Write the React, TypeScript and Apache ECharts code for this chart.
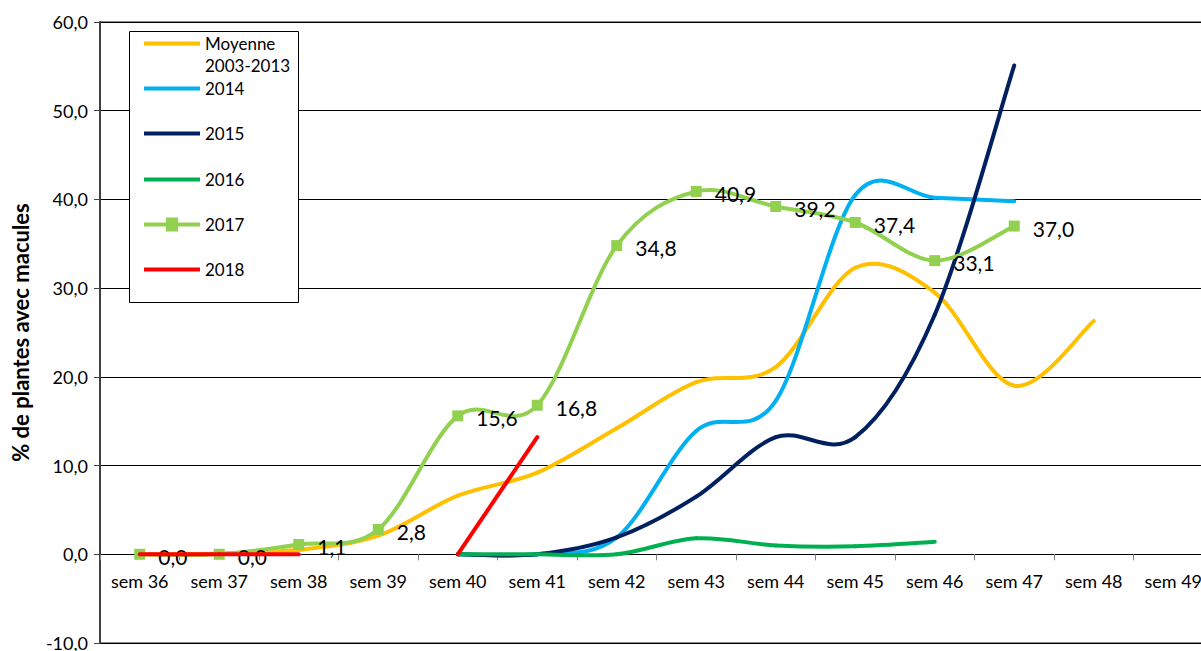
import React, { useEffect, useRef } from 'react';
import * as echarts from 'echarts';

const FONT = 'Lato, "Noto Sans", sans-serif';

const categories = ['sem 36', 'sem 37', 'sem 38', 'sem 39', 'sem 40', 'sem 41', 'sem 42', 'sem 43', 'sem 44', 'sem 45', 'sem 46', 'sem 47', 'sem 48', 'sem 49'];
const yTicks = { min: -10, max: 60, interval: 10 };

const moyenne = [0.0, 0.1, 0.5, 2.1, 6.6, 9.2, 14.2, 19.4, 21.1, 32.3, 29.5, 19.0, 26.3, null];
const s2014 = [null, null, null, null, 0, 0, 1.9, 13.9, 17.3, 40.5, 40.2, 39.8, null, null];
const s2015 = [null, null, null, null, 0, 0, 1.9, 6.5, 13.2, 13.2, 27.0, 55.1, null, null];
const s2016 = [null, null, null, null, 0, 0, 0, 1.8, 1.0, 0.9, 1.4, null, null, null];
const s2017 = [0.0, 0.0, 1.1, 2.8, 15.6, 16.8, 34.8, 40.9, 39.2, 37.4, 33.1, 37.0, null, null];
const s2018 = [0, 0, 0, null, 0, 13.2, null, null, null, null, null, null, null, null];

const seriesNames = ['Moyenne 2003-2013', '2014', '2015', '2016', '2017', '2018'];
const seriesColors = ['#ffc000', '#00b0f0', '#002060', '#00b050', '#92d050', '#ff0000'];
const legendY = [43, 88, 133, 179, 224, 269];

const fmt = (v: number) => v.toFixed(1).replace('.', ',');

// Smoothed curve (Catmull-Rom style, like a spreadsheet's smoothed line), positioned through api.coord
const curveSeries = (name: string, data: (number | null)[], color: string, z: number) => ({
  type: 'custom',
  name,
  data: data.map((v, i) => [i, v == null ? '-' : v]),
  encode: { x: 0, y: 1 },
  itemStyle: { color },
  z,
  silent: true,
  renderItem: (params: any, api: any) => {
    const i = params.dataIndex;
    if (i + 1 >= data.length || data[i] == null || data[i + 1] == null) return null;
    const p = (k: number) => api.coord([k, data[k] as number]);
    const P1 = p(i);
    const P2 = p(i + 1);
    const P0 = i - 1 >= 0 && data[i - 1] != null ? p(i - 1) : P1;
    const P3 = i + 2 < data.length && data[i + 2] != null ? p(i + 2) : P2;
    return {
      type: 'bezierCurve',
      shape: {
        x1: P1[0], y1: P1[1], x2: P2[0], y2: P2[1],
        cpx1: P1[0] + (P2[0] - P0[0]) / 6, cpy1: P1[1] + (P2[1] - P0[1]) / 6,
        cpx2: P2[0] - (P3[0] - P1[0]) / 6, cpy2: P2[1] - (P3[1] - P1[1]) / 6,
      },
      style: { stroke: color, lineWidth: 4, fill: null, lineCap: 'round' },
    };
  },
});

export default function App() {
  const ref = useRef<HTMLDivElement>(null);
  useEffect(() => {
    const chart = echarts.init(ref.current!, null, { renderer: 'svg' });
    const datas = [moyenne, s2014, s2015, s2016, s2017, s2018];
    const series: any[] = datas.map((d, i) => curveSeries(seriesNames[i], d, seriesColors[i], i === 5 ? 8 : 2 + i));
    series.push({
      type: 'scatter',
      name: '2017',
      data: s2017.map((v, i) => [i, v == null ? '-' : v]),
      symbol: 'rect',
      symbolSize: 11,
      itemStyle: { color: '#92d050', opacity: 1 },
      z: 7,
      silent: true,
      label: {
        show: true,
        position: 'right',
        distance: 13,
        offset: [0, 2],
        color: '#000',
        fontFamily: FONT,
        fontSize: 21,
        formatter: (p: any) => fmt(p.value[1]),
      },
    });
    const legends = seriesNames.map((n, i) => {
      const is2017 = n === '2017';
      return {
        data: [{ name: n, icon: is2017 ? 'path://M0,4H22V-1H34V4H56V8H34V13H22V8H0Z' : 'rect' }],
        left: 144,
        top: legendY[i] - 8,
        orient: 'horizontal',
        itemWidth: 56,
        itemHeight: is2017 ? 14 : 4,
        itemGap: 0,
        padding: 0,
        selectedMode: false,
        formatter: (name: string) => (name === 'Moyenne 2003-2013' ? 'Moyenne' : name),
        textStyle: { fontFamily: FONT, fontSize: 17, color: '#000', lineHeight: 16 },
        z: 20,
      };
    });
    const option: any = {
      animation: false,
      backgroundColor: '#fff',
      textStyle: { fontFamily: FONT },
      grid: {
        left: 100, top: 22, width: 1113, bottom: 8,
        outerBoundsMode: 'none', containLabel: false,
        show: true, borderColor: '#8c8c8c', borderWidth: 2, backgroundColor: 'transparent',
      },
      xAxis: {
        type: 'category',
        data: categories,
        boundaryGap: true,
        offset: -88.7,
        axisLine: { onZero: false, lineStyle: { color: '#000', width: 1 } },
        axisTick: { show: true, alignWithLabel: false, length: 6, inside: false, lineStyle: { color: '#808080' } },
        axisLabel: { color: '#000', fontFamily: FONT, fontSize: 18, margin: 18, interval: 0 },
        splitLine: { show: false },
      },
      yAxis: {
        type: 'value',
        min: yTicks.min,
        max: yTicks.max,
        interval: yTicks.interval,
        name: '% de plantes avec macules',
        nameLocation: 'middle',
        nameGap: 69,
        nameTextStyle: { color: '#000', fontFamily: FONT, fontSize: 22, fontWeight: 'bold' },
        axisLine: { show: true, lineStyle: { color: '#404040', width: 2 } },
        axisTick: { show: true, length: 6, lineStyle: { color: '#404040' } },
        axisLabel: { color: '#000', fontFamily: FONT, fontSize: 18, margin: 12, formatter: (v: number) => fmt(v) },
        splitLine: { show: true, lineStyle: { color: '#000', width: 1 } },
      },
      legend: legends,
      graphic: [
        { type: 'rect', left: 129, top: 31, shape: { width: 169, height: 271 }, style: { fill: '#fff', stroke: '#000', lineWidth: 1 }, z: 10 },
        { type: 'text', left: 205, top: 57, style: { text: '2003-2013', fill: '#000', fontFamily: FONT, fontSize: 17 }, z: 21 },
      ],
      series,
    };
    chart.setOption(option);
    return () => chart.dispose();
  }, []);
  return (
    <div style={{ position: 'fixed', left: 0, top: 0, width: 1201, height: 651, overflow: 'hidden', background: '#fff' }}>
      <div ref={ref} style={{ width: 1230, height: 651 }} />
    </div>
  );
}
